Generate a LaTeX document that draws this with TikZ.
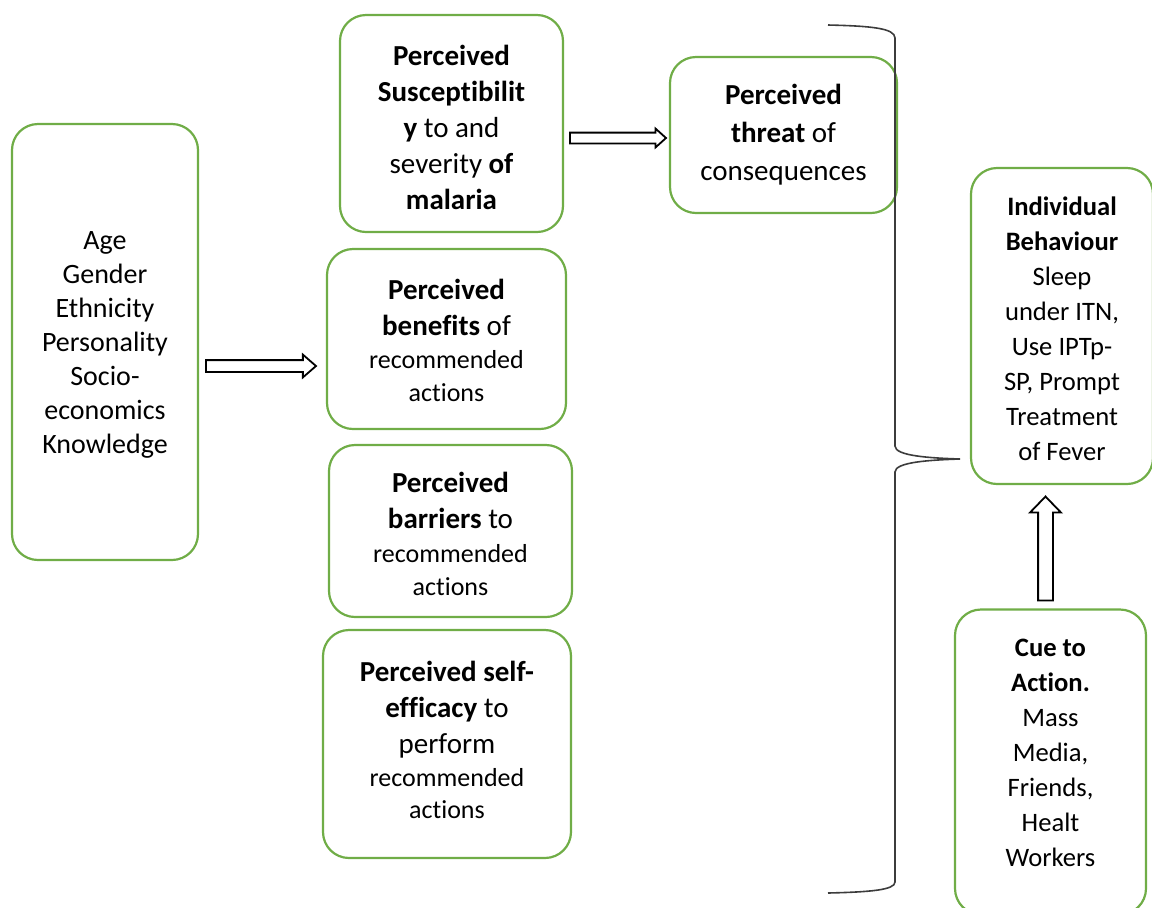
\documentclass[tikz,border=0pt]{standalone}
\usepackage{fontspec}
\setmainfont[Ligatures={NoCommon}]{Carlito}
\usetikzlibrary{shapes.arrows,calc}
\definecolor{boxgreen}{RGB}{112,173,71}
\definecolor{bracegray}{RGB}{60,60,60}
\newcommand\fbig{\fontsize{14.5}{18}\selectfont}
\newcommand\fsm{\fontsize{13}{16.5}\selectfont}
\newcommand\fmid{\fontsize{13.3}{17.5}\selectfont}
\begin{document}
\begin{tikzpicture}[x=0.5pt,y=-0.5pt,
  box/.style={draw=boxgreen,line width=1.1pt,rounded corners=13pt,align=center,inner sep=0pt,fill=white},
  blockarrow/.style={single arrow,draw=black,fill=white,line width=0.9pt,inner xsep=0pt,anchor=tail}]
\useasboundingbox (0,0) rectangle (1152,907);

\node[box,minimum width=93pt,minimum height=218pt,font=\fontsize{14}{17}\selectfont] (age) at (105,342)
  {\mbox{}\\[-5pt]Age\\Gender\\Ethnicity\\Personality\\Socio-\\economics\\Knowledge};

\node[box,minimum width=111.5pt,minimum height=108.5pt,font=\fbig] (sus) at (451.5,123.5)
  {\mbox{}\\[-4pt]\textbf{Perceived}\\\textbf{Susceptibilit}\\\textbf{y} to and\\severity \textbf{of}\\\textbf{malaria}};

\node[box,minimum width=113.5pt,minimum height=78pt,font=\fontsize{14.5}{19}\selectfont] (thr) at (783.5,135)
  {\textbf{Perceived}\\\textbf{threat} of\\consequences};

\node[box,minimum width=119.5pt,minimum height=90pt,font=\fbig] (ben) at (446.5,339)
  {\mbox{}\\[-6pt]\textbf{Perceived}\\\textbf{benefits} of\\[-1.5pt]{\fsm recommended}\\[-1.5pt]{\fsm actions}};

\node[box,minimum width=121.5pt,minimum height=86pt,font=\fbig] (bar) at (450.5,531)
  {\mbox{}\\[-4.5pt]\textbf{Perceived}\\\textbf{barriers} to\\[-1pt]{\fsm recommended}\\[-1.5pt]{\fsm actions}};

\node[box,minimum width=124pt,minimum height=114pt,font=\fbig] (eff) at (447,744)
  {\mbox{}\\[-11.5pt]\textbf{Perceived self-}\\\textbf{efficacy} to\\perform\\[-1.5pt]{\fsm recommended}\\[-2pt]{\fsm actions}};

\node[box,minimum width=91pt,minimum height=158pt,font=\fmid] (ind) at (1062,326)
  {\mbox{}\\[-5.5pt]\textbf{Individual}\\\textbf{Behaviour}\\Sleep\\under ITN,\\Use IPTp-\\SP, Prompt\\Treatment\\of Fever};

\node[box,minimum width=95.5pt,minimum height=152.5pt,font=\fmid] (cue) at (1050.5,762)
  {\textbf{Cue to}\\\textbf{Action.}\\Mass\\Media,\\Friends,\\Healt\\Workers\\[-8.5pt]\mbox{}};

% block arrows
\node[blockarrow,minimum height=55pt,inner ysep=2.5pt,single arrow head extend=2.75pt,single arrow tip angle=82] (a1)
  at ($(age.east)+(6,24)$) {};
\node[blockarrow,minimum height=48pt,inner ysep=2.25pt,single arrow head extend=2pt,single arrow tip angle=84] (a2)
  at ($(sus.east)+(5,14.5)$) {};
\node[blockarrow,minimum height=52pt,inner ysep=3.25pt,single arrow head extend=4pt,single arrow tip angle=88,rotate=90] (a3)
  at ($(cue.north)+(-5,-7)$) {};

% brace
\draw[bracegray,line width=0.8pt]
  (828,25) .. controls (870,26) and (895,28) .. (895,38) -- (895,446)
  .. controls (895,456) and (930,458) .. (960,459)
  .. controls (930,460) and (895,462) .. (895,472) -- (895,882)
  .. controls (895,890) and (870,892) .. (828,893);
\end{tikzpicture}
\end{document}
